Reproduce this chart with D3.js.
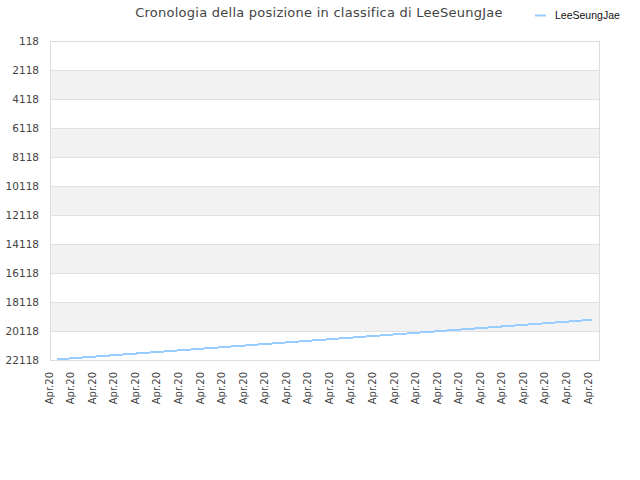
<!DOCTYPE html>
<html>
<head>
<meta charset="utf-8">
<script src="https://cdn.jsdelivr.net/npm/d3@7"></script>
<style>
  body { margin: 0; background: #fff; }
  svg { display: block; }
</style>
</head>
<body>
<div id="chart"></div>
<script>
// data
var seriesName = "LeeSeungJae";
var titleText = "Cronologia della posizione in classifica di LeeSeungJae";

var tickDays = ["2020-04-01", "2020-04-02", "2020-04-03", "2020-04-04", "2020-04-05",
                "2020-04-06", "2020-04-07", "2020-04-08", "2020-04-09", "2020-04-10",
                "2020-04-11", "2020-04-12", "2020-04-13", "2020-04-14", "2020-04-15",
                "2020-04-16", "2020-04-17", "2020-04-18", "2020-04-19", "2020-04-20",
                "2020-04-21", "2020-04-22", "2020-04-23", "2020-04-24", "2020-04-25",
                "2020-04-26"];

var pointTimes = ["2020-04-01 08:00", "2020-04-02 08:00", "2020-04-03 08:00", "2020-04-04 08:00",
                  "2020-04-05 08:00", "2020-04-06 08:00", "2020-04-07 08:00", "2020-04-08 08:00",
                  "2020-04-09 08:00", "2020-04-10 08:00", "2020-04-11 08:00", "2020-04-12 08:00",
                  "2020-04-13 08:00", "2020-04-14 08:00", "2020-04-15 08:00", "2020-04-16 08:00",
                  "2020-04-17 08:00", "2020-04-18 08:00", "2020-04-19 08:00", "2020-04-20 08:00",
                  "2020-04-21 08:00", "2020-04-22 08:00", "2020-04-23 08:00", "2020-04-24 08:00",
                  "2020-04-25 08:00", "2020-04-26 04:00"];

var ranks = [22078, 21968, 21858, 21748, 21638, 21528, 21418, 21308, 21198, 21088,
             20978, 20868, 20758, 20648, 20538, 20428, 20318, 20208, 20098, 19988,
             19878, 19768, 19658, 19548, 19438, 19345];

var yTicks = [118, 2118, 4118, 6118, 8118, 10118, 12118, 14118, 16118, 18118, 20118, 22118];

function init(){
    var w = 640;
    var h = 480;
    var left = 50, right = 600, top = 41, bottom = 360;

    var parseDay = d3.timeParse("%Y-%m-%d");
    var parseTime = d3.timeParse("%Y-%m-%d %H:%M");
    var fmt = d3.timeFormat("%b.%y");

    var days = tickDays.map(parseDay);
    var data = pointTimes.map(function(t, i){
        return { t: parseTime(t), r: ranks[i] };
    });

    var x = d3.scaleTime()
              .domain([parseTime("2020-04-01 00:00"), parseTime("2020-04-26 13:00")])
              .range([left - 0.5, right]);

    var y = d3.scaleLinear()
              .domain([yTicks[0], yTicks[yTicks.length - 1]])
              .range([top, bottom]);

    var svg = d3.select("#chart")
                .append("svg")
                .attr("width", w)
                .attr("height", h);

    // title
    svg.append("text")
       .attr("x", 319)
       .attr("y", 17)
       .attr("text-anchor", "middle")
       .attr("font-family", "DejaVu Sans")
       .attr("font-size", "13px")
       .attr("letter-spacing", "0.25px")
       .attr("fill", "#444")
       .text(titleText);

    // legend
    svg.append("line")
       .attr("x1", 535).attr("x2", 546)
       .attr("y1", 15.5).attr("y2", 15.5)
       .attr("stroke", "#99ccff")
       .attr("stroke-width", 2);
    svg.append("text")
       .attr("x", 555)
       .attr("y", 18.5)
       .attr("font-family", "Liberation Sans")
       .attr("font-size", "10.5px")
       .attr("fill", "#111")
       .text(seriesName);

    // alternating bands
    var bands = d3.range(yTicks.length - 1);
    svg.selectAll("rect.band")
       .data(bands)
       .enter()
       .append("rect")
       .attr("class", "band")
       .attr("x", left)
       .attr("width", right - left)
       .attr("y", function(i){ return y(yTicks[i]); })
       .attr("height", function(i){ return y(yTicks[i + 1]) - y(yTicks[i]); })
       .attr("fill", function(i){ return i % 2 ? "#f2f2f2" : "#ffffff"; });

    // grid lines
    svg.selectAll("line.grid")
       .data(yTicks)
       .enter()
       .append("line")
       .attr("class", "grid")
       .attr("x1", left).attr("x2", right)
       .attr("y1", function(d){ return Math.round(y(d)) + 0.5; })
       .attr("y2", function(d){ return Math.round(y(d)) + 0.5; })
       .attr("stroke", "#e0e0e0");

    // frame
    svg.append("rect")
       .attr("x", left + 0.5)
       .attr("y", top + 0.5)
       .attr("width", right - left - 1)
       .attr("height", bottom - top)
       .attr("fill", "none")
       .attr("stroke", "#dcdcdc");

    // y axis labels
    var yAxis = d3.axisLeft(y).tickValues(yTicks).tickFormat(d3.format("d"))
                  .tickSize(0).tickPadding(11);
    var gy = svg.append("g")
                .attr("transform", "translate(" + left + ",0)")
                .call(yAxis);
    gy.select(".domain").remove();
    gy.selectAll("text")
      .attr("font-family", "DejaVu Sans")
      .attr("font-size", "10.5px")
      .attr("fill", "#444");

    // x axis labels
    var xAxis = d3.axisBottom(x).tickValues(days).tickFormat(fmt).tickSize(0);
    var gx = svg.append("g")
                .attr("transform", "translate(0," + bottom + ")")
                .call(xAxis);
    gx.select(".domain").remove();
    gx.selectAll("text")
      .attr("font-family", "DejaVu Sans")
      .attr("font-size", "10px")
      .attr("fill", "#444")
      .attr("text-anchor", "end")
      .attr("transform", "rotate(-90)")
      .attr("x", -12)
      .attr("y", 0)
      .attr("dy", "0.27em");

    // series line
    var line = d3.line()
                 .x(function(d){ return x(d.t); })
                 .y(function(d){ return y(d.r); });

    svg.append("path")
       .datum(data)
       .attr("fill", "none")
       .attr("stroke", "#99ccff")
       .attr("stroke-width", 2)
       .attr("shape-rendering", "crispEdges")
       .attr("d", line);
}
window.onload = init;
</script>
</body>
</html>
